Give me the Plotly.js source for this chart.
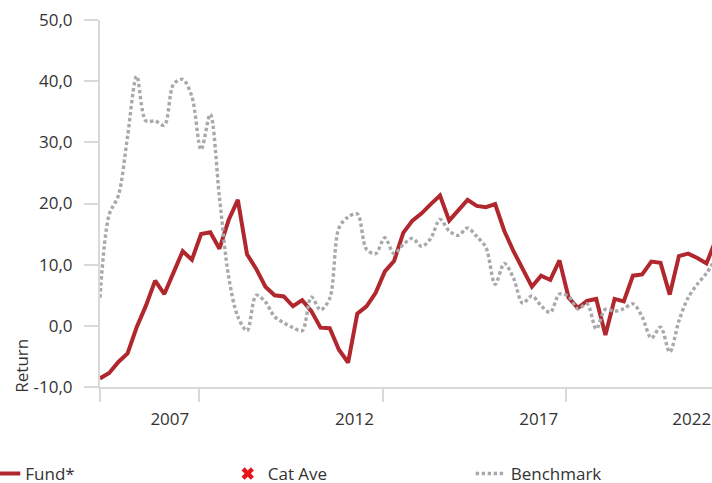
<!DOCTYPE html>
<html>
<head>
<meta charset="utf-8">
<script src="https://cdn.plot.ly/plotly-3.0.1.min.js"></script>
<style>html,body{margin:0;padding:0;background:#fff;}#chart{width:712px;height:483px;}</style>
</head>
<body>
<div id="chart"></div>
<script>
// Quarterly rolling returns (%)
const fund = [-8.6, -7.7, -5.9, -4.5, -0.2, 3.3, 7.4, 5.2, 8.7, 12.2,
  10.8, 15.0, 15.3, 12.6, 17.3, 20.6, 11.7, 9.3, 6.4, 5.0,
  4.8, 3.2, 4.2, 2.4, -0.3, -0.4, -3.9, -6.0, 2.0, 3.2,
  5.4, 8.9, 10.6, 15.2, 17.2, 18.4, 19.9, 21.3, 17.2, 19.0,
  20.6, 19.6, 19.4, 19.9, 15.5, 12.2, 9.4, 6.4, 8.2, 7.5,
  10.7, 4.6, 2.9, 4.1, 4.4, -1.5, 4.4, 4.0, 8.2, 8.4,
  10.5, 10.3, 5.1, 11.4, 11.8, 11.1, 10.2, 14.0];
const benchmark = [4.6, 18.2, 21.3, 31.0, 40.8, 33.5, 33.5, 32.8, 39.5, 40.3,
  37.5, 28.8, 34.6, 21.0, 8.0, 1.5, -0.8, 5.0, 3.9, 1.5,
  0.5, -0.3, -0.8, 4.7, 2.6, 4.5, 16.0, 17.8, 18.3, 12.5,
  11.8, 14.4, 11.8, 13.3, 14.3, 13.0, 14.3, 17.4, 15.5, 14.8,
  16.0, 14.6, 12.8, 6.8, 10.2, 7.8, 3.7, 4.9, 3.3, 2.2,
  5.2, 4.8, 2.8, 3.6, -0.5, 2.7, 2.4, 2.8, 3.6, 1.5,
  -2.0, -0.2, -4.3, 0.8, 4.6, 6.8, 8.6, 11.0];
const catAve = [null];   // category average: no values shown on the chart
const quarters = fund.map((_, i) => i);

const seriesNames = ['Fund*', 'Cat Ave', 'Benchmark'];
const yearLabels = ['2007', '2012', '2017', '2022'];
const yearLabelPos = [7.6, 27.7, 47.75, 64.4];
const yearTickPos = [0, 10.75, 30.75, 50.75];
const yTickVals = [-10, 0, 10, 20, 30, 40, 50];
const yTickText = ['-10,0', '0,0', '10,0', '20,0', '30,0', '40,0', '50,0'];

const xRange = [0, 66.6];
const axisGrey = '#d9d9d9';
const textCol = '#333333';
const fontFam = '"Open Sans", "Noto Sans", sans-serif';
const legendFont = {family: fontFam, size: 17, color: textCol};

const traces = [
  {
    x: quarters, y: fund, name: seriesNames[0], type: 'scatter', mode: 'lines',
    line: {color: '#B0282D', width: 4}, xaxis: 'x', yaxis: 'y', legend: 'legend'
  },
  {
    x: quarters.slice(0, catAve.length), y: catAve, name: seriesNames[1], type: 'scatter', mode: 'markers',
    marker: {symbol: 'x', color: '#E8141C', size: 11}, xaxis: 'x', yaxis: 'y', legend: 'legend2'
  },
  {
    x: quarters, y: benchmark, name: seriesNames[2], type: 'scatter', mode: 'lines',
    line: {color: '#A8A8AD', width: 3.4, dash: '3.4px,2.6px', shape: 'spline', smoothing: 0.9},
    xaxis: 'x2', yaxis: 'y', legend: 'legend3'
  }
];

const legendBase = {orientation: 'h', xanchor: 'left', y: -0.188, yanchor: 'top',
  font: legendFont, bgcolor: 'rgba(0,0,0,0)'};

const layout = {
  width: 712, height: 483,
  margin: {l: 100, r: 0, t: 20, b: 96, autoexpand: false},
  paper_bgcolor: '#ffffff', plot_bgcolor: '#ffffff',
  font: {family: fontFam, size: 17, color: textCol},
  showlegend: true,
  legend: Object.assign({}, legendBase, {x: -0.1874}),
  legend2: Object.assign({}, legendBase, {x: 0.2087}),
  legend3: Object.assign({}, legendBase, {x: 0.6057}),
  xaxis: {
    range: xRange, showgrid: false, zeroline: false,
    showline: true, linecolor: axisGrey, linewidth: 2,
    tickmode: 'array', tickvals: yearTickPos, ticktext: yearTickPos.map(() => ''),
    ticks: 'outside', ticklen: 13, tickwidth: 2, tickcolor: axisGrey,
    showticklabels: false, fixedrange: true
  },
  xaxis2: {
    overlaying: 'x', anchor: 'y', side: 'bottom', range: xRange,
    showgrid: false, zeroline: false, showline: false,
    tickmode: 'array', tickvals: yearLabelPos, ticktext: yearLabels,
    ticks: '', ticklabelstandoff: 20, ticklabeloverflow: 'allow',
    tickfont: {family: fontFam, size: 17, color: textCol}, fixedrange: true
  },
  yaxis: {
    range: [-10, 50], showgrid: false, zeroline: false,
    showline: true, linecolor: axisGrey, linewidth: 2,
    tickmode: 'array', tickvals: yTickVals, ticktext: yTickText,
    ticks: 'outside', ticklen: 14, tickwidth: 2, tickcolor: axisGrey,
    ticklabelstandoff: 8,
    tickfont: {family: fontFam, size: 17, color: textCol}, fixedrange: true
  },
  annotations: [{
    text: 'Return', textangle: -90, showarrow: false,
    xref: 'paper', yref: 'paper', x: -0.1275, y: 0.058,
    xanchor: 'center', yanchor: 'middle',
    font: {family: fontFam, size: 17, color: textCol}
  }]
};

Plotly.newPlot('chart', traces, layout, {displayModeBar: false, staticPlot: true});
</script>
</body>
</html>
